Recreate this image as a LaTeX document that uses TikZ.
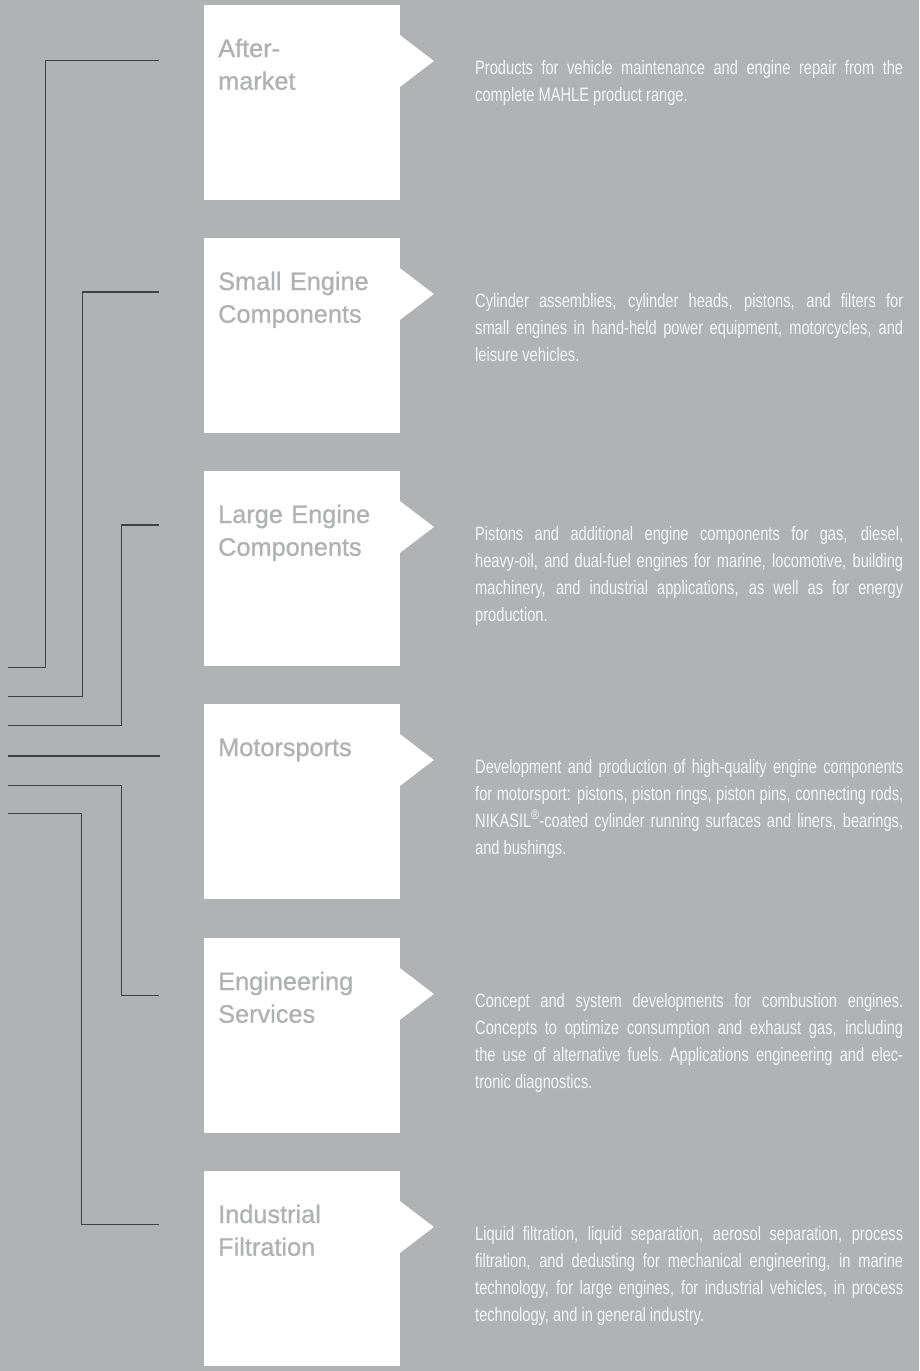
\documentclass[tikz,border=0pt]{standalone}
\usepackage{fontspec}
\setmainfont{Liberation Sans}
\newfontfamily\condfont[FakeStretch=0.755]{Liberation Sans}
\newfontfamily\headfont[FakeBold=0.8]{Liberation Sans}
\definecolor{bg}{RGB}{177,178,180}
\definecolor{linec}{RGB}{64,65,67}
\definecolor{headc}{RGB}{176,177,179}
\definecolor{descc}{RGB}{246,246,246}
\begin{document}
\begin{tikzpicture}[x=1pt,y=-1pt,
  box/.style={anchor=north west,fill=white,draw=none,inner sep=0pt,
    minimum width=195.5pt,minimum height=195pt},
  head/.style={anchor=base west,inner sep=0pt,text width=180pt,align=left,
    text=headc,font=\headfont\fontsize{25.3}{32.7}\selectfont},
  desc/.style={anchor=base west,inner sep=0pt,text width=428pt,align=justify,
    text=descc,font=\condfont\fontsize{19.4}{27}\selectfont},
  conn/.style={draw=linec,line width=1.2pt}]
\fill[bg] (0,0) rectangle (919,1371);
\useasboundingbox (0,0) rectangle (919,1371);

% boxes
\foreach \n/\t in {1/5,2/238,3/471,4/704,5/938,6/1171}{
  \node[box] (b\n) at (204,\t) {};
  \fill[white] ([xshift=-1pt,yshift=-29.3pt]b\n.north east)
    -- ([xshift=34pt,yshift=-56pt]b\n.north east)
    -- ([xshift=-1pt,yshift=-82.7pt]b\n.north east) -- cycle;
}

% headings
\node[head] (h1) at (218,57) {After-\\market};
\node[head] (h2) at (218,290) {Small Engine\\Components};
\node[head] (h3) at (218,523) {Large Engine\\Components};
\node[head] (h4) at (218,756) {Motorsports};
\node[head] (h5) at (218,990) {Engineering\\Services};
\node[head] (h6) at (218,1223) {Industrial\\Filtration};

% descriptions
\node[desc] (d1) at (475,74) {Products for vehicle maintenance and engine repair from the\linebreak complete MAHLE product range.};
\node[desc] (d2) at (475,307) {Cylinder assemblies, cylinder heads, pistons, and filters for\linebreak small engines in hand-held power equipment, motorcycles, and\linebreak leisure vehicles.};
\node[desc] (d3) at (475,540) {Pistons and additional engine components for gas, diesel,\linebreak heavy-oil, and dual-fuel engines for marine, locomotive, building\linebreak machinery, and industrial applications, as well as for energy\linebreak production.};
\node[desc] (d4) at (475,773) {Development and production of high-quality engine components\linebreak for motorsport: pistons, piston rings, piston pins, connecting rods,\linebreak NIKASIL\textsuperscript{®}-coated cylinder running surfaces and liners, bearings,\linebreak and bushings.};
\node[desc] (d5) at (475,1007) {Concept and system developments for combustion engines.\linebreak Concepts to optimize consumption and exhaust gas, including\linebreak the use of alternative fuels.\ Applications engineering and elec-\linebreak tronic diagnostics.};
\node[desc] (d6) at (475,1240) {Liquid filtration, liquid separation, aerosol separation, process\linebreak filtration, and dedusting for mechanical engineering, in marine\linebreak technology, for large engines, for industrial vehicles, in process\linebreak technology, and in general industry.};

% connector coordinates
\coordinate (s1) at (8,667.3);  \coordinate (k1) at (45.3,60.7);
\coordinate (s2) at (8,696.3);  \coordinate (k2) at (82.5,292);
\coordinate (s3) at (8,725.7);  \coordinate (k3) at (121.5,525);
\coordinate (s4) at (8,756);
\coordinate (s5) at (8,785.7);  \coordinate (k5) at (121.5,995.5);
\coordinate (s6) at (8,813.7);  \coordinate (k6) at (81.3,1224.5);

\draw[conn,shorten >=44.7pt] (s1) -| (k1) -- (k1 -| b1.west);
\draw[conn,shorten >=44.7pt] (s2) -| (k2) -- (k2 -| b2.west);
\draw[conn,shorten >=44.7pt] (s3) -| (k3) -- (k3 -| b3.west);
\draw[conn,shorten >=44pt] (s4) -- (s4 -| b4.west);
\draw[conn,shorten >=44.7pt] (s5) -| (k5) -- (k5 -| b5.west);
\draw[conn,shorten >=44.7pt] (s6) -| (k6) -- (k6 -| b6.west);
\end{tikzpicture}
\end{document}
